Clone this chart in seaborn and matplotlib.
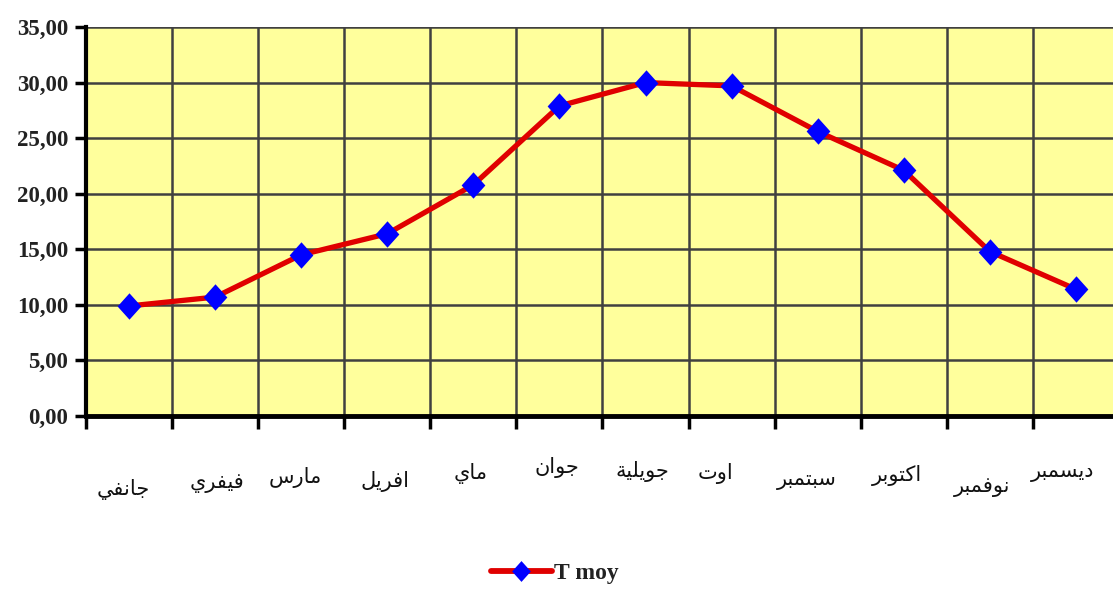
import numpy as np
import pandas as pd
import matplotlib
matplotlib.use("Agg")
import matplotlib.pyplot as plt
import seaborn as sns
from matplotlib.ticker import FixedLocator, FuncFormatter
from matplotlib.lines import Line2D

# ---------------- data ----------------
months = ["جانفي", "فيفري", "مارس", "افريل", "ماي", "جوان",
          "جويلية", "اوت", "سبتمبر", "اكتوبر", "نوفمبر", "ديسمبر"]
t_moy = [9.9, 10.7, 14.5, 16.4, 20.8, 27.9, 30.0, 29.7, 25.6, 22.1, 14.8, 11.4]
series_name = "T moy"
y_ticks = [0, 5, 10, 15, 20, 25, 30, 35]

# ---------------- layout (label offsets in pixels) ----------------
label_dx = [-6, 2, -6, -2, -3, -3, -3, -16, -11, -7, -8, -13]
label_dy = [74, 67, 61, 66, 57, 52, 56, 57, 64, 59, 71, 56]

# Minimal Arabic shaping (presentation forms + RTL) since matplotlib has no shaping
FORMS = {
    'ا': ('\uFE8D', '\uFE8E', None, None),
    'ب': ('\uFE8F', '\uFE90', '\uFE91', '\uFE92'),
    'ة': ('\uFE93', '\uFE94', None, None),
    'ت': ('\uFE95', '\uFE96', '\uFE97', '\uFE98'),
    'ج': ('\uFE9D', '\uFE9E', '\uFE9F', '\uFEA0'),
    'د': ('\uFEA9', '\uFEAA', None, None),
    'ر': ('\uFEAD', '\uFEAE', None, None),
    'س': ('\uFEB1', '\uFEB2', '\uFEB3', '\uFEB4'),
    'ف': ('\uFED1', '\uFED2', '\uFED3', '\uFED4'),
    'ك': ('\uFED9', '\uFEDA', '\uFEDB', '\uFEDC'),
    'ل': ('\uFEDD', '\uFEDE', '\uFEDF', '\uFEE0'),
    'م': ('\uFEE1', '\uFEE2', '\uFEE3', '\uFEE4'),
    'ن': ('\uFEE5', '\uFEE6', '\uFEE7', '\uFEE8'),
    'و': ('\uFEED', '\uFEEE', None, None),
    'ي': ('\uFEF1', '\uFEF2', '\uFEF3', '\uFEF4'),
}


def shape(word):
    chars = list(word)
    out = []
    for i, c in enumerate(chars):
        f = FORMS.get(c)
        if f is None:
            out.append(c)
            continue
        prev = chars[i - 1] if i > 0 else None
        nxt = chars[i + 1] if i < len(chars) - 1 else None
        jp = prev is not None and prev in FORMS and FORMS[prev][2] is not None
        jn = nxt is not None and nxt in FORMS and f[2] is not None
        if jp and jn:
            g = f[3]
        elif jp:
            g = f[1]
        elif jn:
            g = f[2]
        else:
            g = f[0]
        out.append(g)
    return ''.join(reversed(out))


sns.set_style("white")
plt.rcParams['font.family'] = ['DejaVu Sans']

df = pd.DataFrame({"pos": np.arange(len(months)), "val": t_moy})

fig = plt.figure(figsize=(11.13, 5.90), dpi=100)
ax = fig.add_axes([86 / 1113, 1 - 416 / 590, (1119 - 86) / 1113, (416 - 27) / 590])
ax.set_facecolor("#FFFF9C")

diamond = [(0, 1), (0.9, 0), (0, -1), (-0.9, 0), (0, 1)]

sns.lineplot(data=df, x="pos", y="val", ax=ax, color="#E00000", linewidth=3.8,
             marker=diamond, markersize=19, markerfacecolor="#0000FF",
             markeredgecolor="#0000FF", markeredgewidth=0, label=series_name,
             legend=False, zorder=5)

ax.set_xlim(-0.5, len(months) - 0.5)
ax.set_ylim(0, 35)

# grid
for yv in y_ticks[1:]:
    ax.axhline(yv, color="#404040", linewidth=1.8, zorder=1)
for xv in np.arange(0.5, len(months) - 0.5, 1.0):
    ax.axvline(xv, color="#404040", linewidth=1.8, zorder=1)

# spines
for s in ["top", "right"]:
    ax.spines[s].set_visible(False)
ax.spines["left"].set_linewidth(3.0)
ax.spines["left"].set_color("black")
ax.spines["bottom"].set_linewidth(3.5)
ax.spines["bottom"].set_color("black")

# y axis
ax.yaxis.set_major_locator(FixedLocator(y_ticks))
ax.yaxis.set_major_formatter(FuncFormatter(lambda v, p: f"{v:.2f}".replace(".", ",")))
ax.tick_params(axis="y", length=8, width=2.5, color="black", pad=5, left=True,
               labelsize=16.5, labelcolor="#222222")
for lab in ax.get_yticklabels():
    lab.set_fontfamily("Liberation Serif")
    lab.set_fontweight("bold")

# x axis: ticks at boundaries, labels placed manually
ax.xaxis.set_major_locator(FixedLocator(np.arange(-0.5, len(months), 1.0)))
ax.set_xticklabels([])
ax.tick_params(axis="x", length=9, width=2.5, color="black", bottom=True)
ax.set_xlabel("")
ax.set_ylabel("")

for i, m in enumerate(months):
    ax.annotate(shape(m), xy=(i, 0), xycoords=ax.get_xaxis_transform(),
                xytext=(label_dx[i], -label_dy[i]), textcoords="offset pixels",
                ha="center", va="center", fontsize=15, color="#111111",
                fontfamily="DejaVu Sans", annotation_clip=False)

handle = Line2D([0], [0], color="#E00000", linewidth=4.2, marker=diamond,
                markersize=15, markerfacecolor="#0000FF", markeredgewidth=0)
leg = fig.legend([handle], [series_name], loc="center",
                 bbox_to_anchor=(555 / 1113, 1 - 573 / 590), frameon=False,
                 handlelength=2.6, handletextpad=0.1,
                 prop={"family": "Liberation Serif", "weight": "bold", "size": 17})
for t in leg.get_texts():
    t.set_color("#222222")

fig.savefig("out.png", dpi=100)
